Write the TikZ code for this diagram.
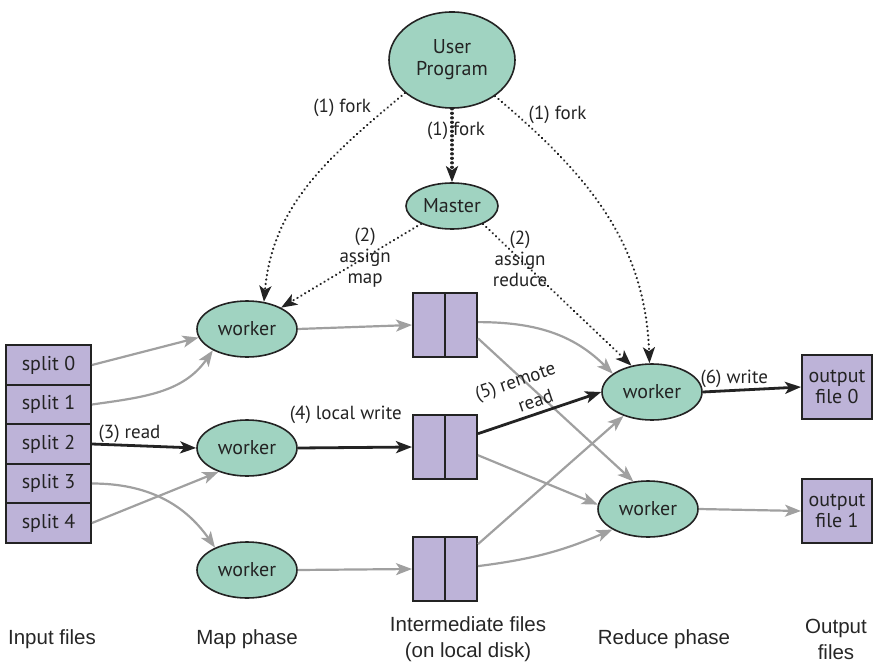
\documentclass[tikz,border=0pt]{standalone}
\usepackage{fontspec}
\setsansfont{Liberation Sans}
\newfontfamily\diagfont{PT Sans}
\usepackage{tikz}
\usetikzlibrary{positioning,arrows.meta,shapes.geometric,calc}

\definecolor{nodegreen}{RGB}{160,211,193}
\definecolor{filepurple}{RGB}{189,179,216}
\definecolor{arrowgray}{RGB}{160,160,160}
\definecolor{inkdark}{RGB}{35,35,35}

\begin{document}
\begin{tikzpicture}[
  x=1pt, y=1pt,
  proc/.style={
    ellipse, draw=inkdark, line width=1.6pt, fill=nodegreen,
    text=inkdark, font=\diagfont\fontsize{20}{22}\selectfont,
    inner sep=0pt, align=center
  },
  worker/.style={proc, minimum width=100pt, minimum height=56pt},
  filebox/.style={
    rectangle, draw=inkdark, line width=2pt, fill=filepurple,
    text=inkdark, font=\diagfont\fontsize{20}{21}\selectfont,
    inner sep=0pt, align=center
  },
  splitbox/.style={filebox, minimum width=85pt, minimum height=39.5pt},
  interbox/.style={filebox, minimum width=64pt, minimum height=64pt},
  outbox/.style={filebox, minimum width=70pt, minimum height=64pt},
  flow/.style={-{Stealth[length=16pt,width=12pt,inset=4pt]},
    line width=2.2pt, draw=arrowgray},
  data/.style={-{Stealth[length=16pt,width=12pt,inset=4pt]},
    line width=2.8pt, draw=inkdark},
  fork/.style={-{Stealth[length=16pt,width=12pt,inset=4pt]},
    line width=2.4pt, draw=inkdark, line cap=round,
    dash pattern=on 0.1pt off 4.4pt},
  lbl/.style={font=\diagfont\fontsize{19}{21}\selectfont, text=inkdark,
    inner sep=1pt, align=center},
  phase/.style={font=\sffamily\fontsize{20.5}{26}\selectfont,
    text=black!85, align=center}
]
\useasboundingbox (0,-668) rectangle (890,0);

% Control
\node[proc, minimum width=126pt, minimum height=96pt] (up) at (452,-60)
  {User\\Program};
\node[proc, minimum width=92pt, minimum height=46pt] (m) at (452,-206)
  {Master};

% Input splits, stacked
\node[splitbox] (s0) at (48.5,-365) {split 0};
\node[splitbox, below=-2pt of s0] (s1) {split 1};
\node[splitbox, below=-2pt of s1] (s2) {split 2};
\node[splitbox, below=-2pt of s2] (s3) {split 3};
\node[splitbox, below=-2pt of s3] (s4) {split 4};

% Map workers
\node[worker] (w1) at (247,-329) {worker};
\node[worker] (w2) at (247,-448) {worker};
\node[worker] (w3) at (247,-570) {worker};

% Intermediate files (two halves each)
\node[interbox] (i1) at (445,-325) {};
\node[interbox] (i2) at (445,-447) {};
\node[interbox] (i3) at (445,-569) {};
\foreach \f in {i1,i2,i3}
  \draw[line width=2pt, inkdark] (\f.north) -- (\f.south);

% Reduce workers
\node[worker] (r1) at (652,-392) {worker};
\node[worker] (r2) at (648,-509) {worker};

% Output files
\node[outbox] (o0) at (837,-387) {output\\file 0};
\node[outbox] (o1) at (837,-511) {output\\file 1};

% (1) fork
\draw[fork] (up.-145) to[out=-140, in=85]
  node[lbl, pos=0.08, left=14pt] {(1) fork} (w1.58);
\draw[fork] (up.-40) to[out=-40, in=92]
  node[lbl, pos=0.08, right=10pt] {(1) fork} (r1.95);
\draw[fork, line width=3.2pt] (up.south) --
  node[lbl, pos=0.3, xshift=4pt] {(1) fork} (m.north);

% (2) assign
\draw[fork] (m.-150) -- node[lbl, pos=0.4] {(2)\\assign\\map} (w1.32);
\draw[fork] (m.-30) -- node[lbl, pos=0.25] {(2)\\assign\\reduce} (r1.128);

% Splits to map workers
\draw[flow] (s0.east) -- (w1.190);
\draw[flow] (s1.east) to[out=8, in=-125] (w1.-148);
\draw[data] (s2.east) -- node[lbl, above, pos=0.36] {(3) read} (w2.west);
\draw[flow] (s3.east) to[out=0, in=125] (w3.145);
\draw[flow] (s4.east) -- (w2.-140);

% Map workers to local disk
\draw[flow] (w1.east) -- (i1.west);
\draw[data] (w2.east) -- node[lbl, above=22pt, pos=0.42] {(4) local write} (i2.west);
\draw[flow] (w3.east) -- (i3.west);

% Local disk to reduce workers
\draw[flow] (i1.5) to[out=0, in=135] (r1.155);
\draw[flow] (i1.-22) -- (r2.118);
\draw[data] (i2.22) -- node[lbl, sloped, above, pos=0.4,
  font=\diagfont\fontsize{19}{25}\selectfont]
  {(5) remote\\\phantom{(5) }read} (r1.west);
\draw[flow] (i2.-14) -- (r2.175);
\draw[flow] (i3.37) -- (r1.-140);
\draw[flow] (i3.5) to[bend right=8] (r2.-150);

% Reduce workers to output
\draw[data] (r1.east) -- node[lbl, above, pos=0.32] {(6) write} (o0.west);
\draw[flow] (r2.east) -- (o1.west);

% Phase captions
\node[phase] (cin) at (52,-639) {Input files};
\node[phase] (cmap) at (247,-639) {Map phase};
\node[phase] (cint) at (468,-639) {Intermediate files\\(on local disk)};
\node[phase] (cred) at (664,-639) {Reduce phase};
\node[phase] (cout) at (836,-639) {Output\\files};

\end{tikzpicture}
\end{document}
